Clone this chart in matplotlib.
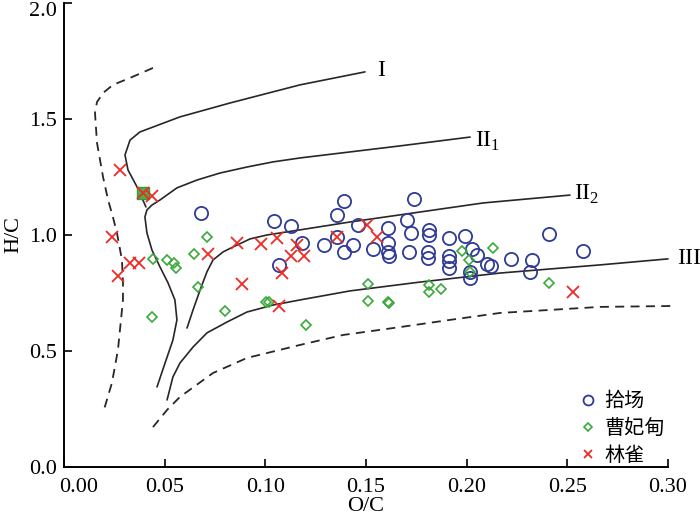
import matplotlib
matplotlib.use("Agg")
import matplotlib.pyplot as plt
import matplotlib.transforms as mtransforms

plt.rcParams['font.family'] = ['Liberation Serif', 'Noto Sans CJK SC', 'DejaVu Sans']
plt.rcParams['mathtext.fontset'] = 'custom'
plt.rcParams['mathtext.rm'] = 'Liberation Serif'

# ---- 散点数据 (O/C, H/C) ----
shichang_oc = [0.0680, 0.1043, 0.1128, 0.1068, 0.1182, 0.1291, 0.1356, 0.1356, 0.1391,
               0.1435, 0.1391, 0.1460, 0.1535, 0.1609, 0.1609, 0.1609, 0.1614, 0.1704,
               0.1738, 0.1724, 0.1714, 0.1813, 0.1813, 0.1808, 0.1808, 0.1912, 0.1992,
               0.1912, 0.1912, 0.1912, 0.2027, 0.2051, 0.2101, 0.2121, 0.2220, 0.2325,
               0.2315, 0.2017, 0.2017, 0.2409, 0.2578]
shichang_hc = [1.095, 1.060, 1.039, 0.871, 0.966, 0.957, 0.991, 1.086, 1.147,
               0.957, 0.927, 1.043, 0.940, 1.030, 0.966, 0.927, 0.909, 1.065,
               1.155, 1.009, 0.927, 1.022, 1.000, 0.927, 0.901, 0.987, 0.996,
               0.909, 0.888, 0.858, 0.940, 0.914, 0.875, 0.866, 0.897, 0.892,
               0.841, 0.841, 0.815, 1.004, 0.931]

caofeidian_oc = [0.0710, 0.0646, 0.0442, 0.0512, 0.0546, 0.0556, 0.0666, 0.0437, 0.0800,
                 0.1003, 0.1018, 0.1202, 0.1510, 0.1510, 0.1609, 0.1614, 0.1977, 0.2131,
                 0.2012, 0.2017, 0.1813, 0.1813, 0.1873, 0.2409]
caofeidian_hc = [0.991, 0.918, 0.897, 0.892, 0.879, 0.858, 0.776, 0.647, 0.672,
                 0.711, 0.711, 0.612, 0.789, 0.716, 0.711, 0.707, 0.931, 0.944,
                 0.892, 0.841, 0.784, 0.754, 0.767, 0.793]
# 实心方块那个点
caofeidian_sq_oc = [0.0392]
caofeidian_sq_hc = [1.181]

linque_oc = [0.0278, 0.0392, 0.0437, 0.0238, 0.0328, 0.0373, 0.0268, 0.0715, 0.0859,
             0.0978, 0.1058, 0.1157, 0.1128, 0.1192, 0.1083, 0.0884, 0.1068, 0.1356,
             0.1505, 0.1555, 0.2528]
linque_hc = [1.280, 1.181, 1.168, 0.991, 0.879, 0.879, 0.823, 0.918, 0.966,
             0.961, 0.987, 0.957, 0.909, 0.909, 0.836, 0.789, 0.694, 0.991,
             1.043, 0.991, 0.754]

# ---- 演化曲线 ----
curve1_oc = [0.0407, 0.0363, 0.0318, 0.0303, 0.0328, 0.0377, 0.0576, 0.0825, 0.1172, 0.1495]
curve1_hc = [1.121, 1.207, 1.280, 1.345, 1.409, 1.444, 1.509, 1.569, 1.647, 1.703]

curve2a_oc = [0.0462, 0.0502, 0.0541, 0.0561, 0.0551, 0.0517, 0.0477, 0.0437, 0.0412, 0.0402,
              0.0412, 0.0437, 0.0477, 0.0561, 0.0661, 0.0775, 0.0909, 0.1038, 0.1172,
              0.1421, 0.1669, 0.2017]
curve2a_hc = [0.345, 0.448, 0.547, 0.634, 0.720, 0.793, 0.862, 0.935, 1.009, 1.078,
              1.108, 1.129, 1.151, 1.203, 1.237, 1.267, 1.293, 1.315, 1.332,
              1.358, 1.384, 1.422]

curve2b_oc = [0.0611, 0.0641, 0.0676, 0.0710, 0.0740, 0.0790, 0.0839, 0.0924, 0.1008,
              0.1172, 0.1421, 0.1768, 0.2081, 0.2513]
curve2b_hc = [0.599, 0.677, 0.763, 0.841, 0.892, 0.927, 0.948, 0.983, 1.000,
              1.022, 1.056, 1.099, 1.138, 1.172]

curve3_oc = [0.0512, 0.0541, 0.0576, 0.0641, 0.0710, 0.0810, 0.0909, 0.1038, 0.1172,
             0.1421, 0.1768, 0.2166, 0.2662, 0.3000]
curve3_hc = [0.289, 0.388, 0.448, 0.517, 0.578, 0.625, 0.668, 0.698, 0.720,
             0.759, 0.797, 0.836, 0.871, 0.897]

dash_left_oc = [0.0442, 0.0328, 0.0243, 0.0194, 0.0164, 0.0154, 0.0164, 0.0194, 0.0219,
                0.0243, 0.0263, 0.0288, 0.0293, 0.0293, 0.0268, 0.0238, 0.0194]
dash_left_hc = [1.720, 1.677, 1.647, 1.612, 1.573, 1.526, 1.397, 1.250, 1.151,
                1.078, 1.009, 0.892, 0.793, 0.720, 0.504, 0.362, 0.233]

dash_bottom_oc = [0.0442, 0.0512, 0.0576, 0.0740, 0.0909, 0.1172, 0.1386, 0.1669,
                  0.1917, 0.2166, 0.2662, 0.3025]
dash_bottom_hc = [0.172, 0.246, 0.302, 0.405, 0.470, 0.526, 0.569, 0.603,
                  0.634, 0.664, 0.690, 0.694]

x_ticks = [0.00, 0.05, 0.10, 0.15, 0.20, 0.25, 0.30]
x_ticklabels = ['0.00', '0.05', '0.10', '0.15', '0.20', '0.25', '0.30']
y_ticks = [0.0, 0.5, 1.0, 1.5, 2.0]
y_ticklabels = ['0.0', '0.5', '1.0', '1.5', '2.0']

line_color = '#2a2526'
blue = '#2e3a96'
green = '#3aa83a'
red = '#ee2a24'

fig = plt.figure(figsize=(7.0, 5.23), dpi=100)
ax = fig.add_axes([0.0914, 0.1071, 0.8629, 0.8872])

# 曲线
for xs, ys in [(curve1_oc, curve1_hc), (curve2a_oc, curve2a_hc),
               (curve2b_oc, curve2b_hc), (curve3_oc, curve3_hc)]:
    ax.plot(xs, ys, color=line_color, lw=1.2, solid_capstyle='round',
            solid_joinstyle='round', clip_on=False)
for xs, ys in [(dash_left_oc, dash_left_hc), (dash_bottom_oc, dash_bottom_hc)]:
    ax.plot(xs, ys, color=line_color, lw=1.3, ls=(0, (5, 3.5)), clip_on=False)

# 散点
ax.plot(caofeidian_sq_oc, caofeidian_sq_hc, ls='none', marker='s', ms=8,
        mfc='#4caf50', mec='#3a9a3a', zorder=3)
ax.plot(shichang_oc, shichang_hc, ls='none', marker='o', ms=9.5, mfc='none',
        mec=blue, mew=1.3, label='拾场', zorder=4)
ax.plot(caofeidian_oc, caofeidian_hc, ls='none', marker='D', ms=5.5, mfc='none',
        mec=green, mew=1.2, label='曹妃甸', zorder=4)
ax.plot(linque_oc, linque_hc, ls='none', marker='x', ms=8.5, mec=red,
        mew=1.3, label='林雀', zorder=5)

# 曲线标注
ax.text(0.1575, 1.711, 'I', fontsize=17, ha='center', va='center')
ax.text(0.2105, 1.405, r'$\mathrm{II}_{1}$', fontsize=17, ha='center', va='center')
ax.text(0.2595, 1.175, r'$\mathrm{II}_{2}$', fontsize=17, ha='center', va='center')
ax.text(0.3105, 0.897, 'III', fontsize=17, ha='center', va='center', clip_on=False)

ax.set_xlim(0, 0.30)
ax.set_ylim(0, 2.0)
ax.set_xticks(x_ticks)
ax.set_xticklabels(x_ticklabels)
ax.set_yticks(y_ticks)
ax.set_yticklabels(y_ticklabels)
ax.tick_params(direction='in', length=6, width=1.2, labelsize=16, pad=8)
ax.tick_params(axis='y', pad=5)
ax.spines['top'].set_visible(False)
ax.spines['right'].set_visible(False)
ax.spines['left'].set_linewidth(1.4)
ax.spines['bottom'].set_linewidth(1.4)

# 0.00 标签往右挪一点, 2.0 标签往下挪一点
lbl0 = ax.get_xticklabels()[0]
lbl0.set_transform(lbl0.get_transform() + mtransforms.ScaledTranslation(0.15, 0, fig.dpi_scale_trans))
lbl_top = ax.get_yticklabels()[-1]
lbl_top.set_transform(lbl_top.get_transform() + mtransforms.ScaledTranslation(0, -0.06, fig.dpi_scale_trans))

ax.set_xlabel('O/C', fontsize=16, labelpad=0)
ax.set_ylabel('H/C', fontsize=16, labelpad=4)

leg = ax.legend(loc='upper left', bbox_to_anchor=(0.845, 0.182), frameon=False,
                handlelength=0.6, handletextpad=0.5, borderaxespad=0.0,
                labelspacing=0.3, markerscale=0.75,
                prop={'family': ['Noto Sans CJK SC'], 'size': 14.5})

plt.savefig('out.png', dpi=100)
plt.close()
